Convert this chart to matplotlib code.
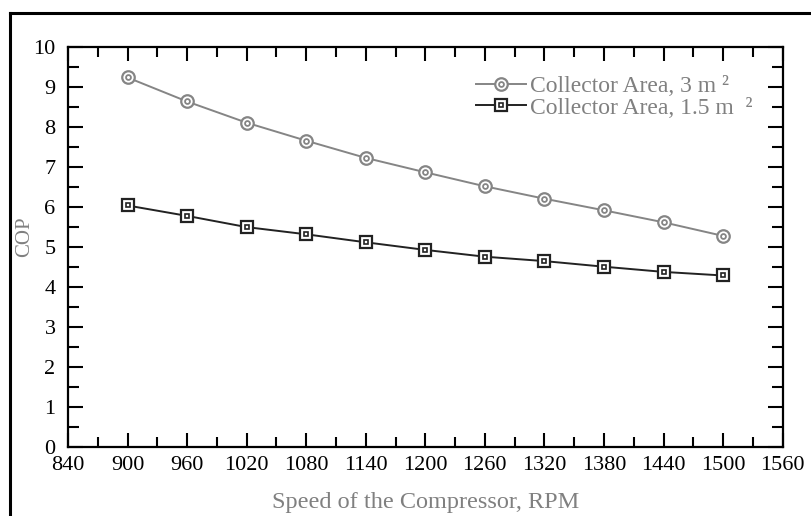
import matplotlib
matplotlib.use("Agg")
import matplotlib.pyplot as plt
from matplotlib.ticker import MultipleLocator
from matplotlib.lines import Line2D

plt.rcParams['font.family'] = ['Liberation Serif', 'DejaVu Serif']

# data
speed = [900, 960, 1020, 1080, 1140, 1200, 1260, 1320, 1380, 1440, 1500]
cop_3m2 = [9.23, 8.63, 8.10, 7.65, 7.22, 6.86, 6.51, 6.20, 5.91, 5.61, 5.27]
cop_15m2 = [6.03, 5.77, 5.49, 5.31, 5.11, 4.92, 4.75, 4.64, 4.50, 4.37, 4.28]

label_3 = "Collector Area, 3 m \u00b2"
label_15 = "Collector Area, 1.5 m  \u00b2"

c_light = "#858585"
c_dark = "#222222"
c_text = "#808080"

fig = plt.figure(figsize=(8.11, 5.16), dpi=100)
ax = fig.add_axes([0.0838, 0.1343, 0.8812, 0.7752])

# outer frame (top and left only, as in the scan)
fig.add_artist(Line2D([10/811, 1.0], [1 - 13/516, 1 - 13/516], color="black", lw=2.2, transform=fig.transFigure))
fig.add_artist(Line2D([10/811, 10/811], [0.0, 1 - 13/516], color="black", lw=2.2, transform=fig.transFigure))

l1, = ax.plot(speed, cop_3m2, color=c_light, lw=1.4, marker='o', ms=9, mfc='white', mec=c_light, mew=1.6)
d1, = ax.plot(speed, cop_3m2, ls='none', marker='o', ms=3.5, mfc='white', mec=c_light, mew=1.3)
l2, = ax.plot(speed, cop_15m2, color=c_dark, lw=1.4, marker='s', ms=9, mfc='white', mec=c_dark, mew=1.6)
d2, = ax.plot(speed, cop_15m2, ls='none', marker='s', ms=3.5, mfc='white', mec=c_dark, mew=1.2)

ax.set_xlim(840, 1560)
ax.set_ylim(0, 10)
ax.xaxis.set_major_locator(MultipleLocator(60))
ax.xaxis.set_minor_locator(MultipleLocator(30))
ax.yaxis.set_major_locator(MultipleLocator(1))
ax.yaxis.set_minor_locator(MultipleLocator(0.5))

for s in ax.spines.values():
    s.set_linewidth(1.6)
ax.tick_params(which='both', direction='in', top=True, right=True, width=1.5, labelsize=16, colors='black')
ax.tick_params(axis='x', which='major', length=10, pad=7)
ax.tick_params(axis='x', which='minor', length=7)
ax.tick_params(axis='y', which='major', length=11, pad=9)
ax.tick_params(axis='y', which='minor', length=8)

ax.set_xlabel("Speed of the Compressor, RPM", fontsize=17.5, color=c_text)
ax.set_ylabel("COP", fontsize=15, color=c_text)
ax.xaxis.set_label_coords(0.50, -0.112)
ax.yaxis.set_label_coords(-0.048, 0.524)

leg = ax.legend([(l1, d1), (l2, d2)], [label_3, label_15], loc='upper left',
                bbox_to_anchor=(0.571, 0.928), frameon=False, fontsize=17,
                handlelength=2.1, handletextpad=0.2, labelspacing=0.0,
                borderaxespad=0, borderpad=0)
for t in leg.get_texts():
    t.set_color(c_text)

fig.savefig("out.png", dpi=100)
